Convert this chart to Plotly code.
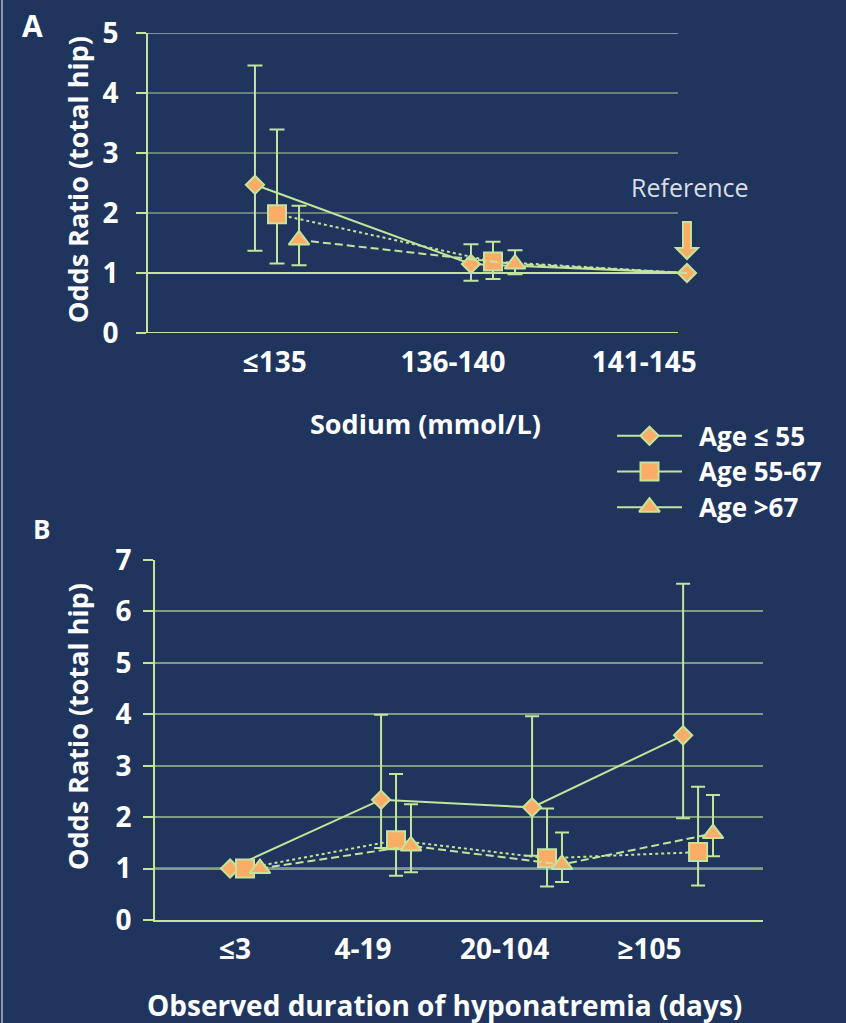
import plotly.graph_objects as go

# ---------------- data ----------------
SERIES = ["Age ≤ 55", "Age 55-67", "Age >67"]

# Panel A: odds ratio by serum sodium (141-145 is the reference group)
SODIUM_CATS = ["≤135", "136-140", "141-145"]
sodium_or_le55 = [2.47, 1.15, 1.00]
sodium_lo_le55 = [1.37, 0.87, None]
sodium_hi_le55 = [4.46, 1.48, None]
sodium_or_55_67 = [1.98, 1.19, 1.00]
sodium_lo_55_67 = [1.16, 0.90, None]
sodium_hi_55_67 = [3.39, 1.52, None]
sodium_or_gt67 = [1.55, 1.15, 1.00]
sodium_lo_gt67 = [1.13, 0.98, None]
sodium_hi_gt67 = [2.12, 1.38, None]
SODIUM_YTICKS = [0, 1, 2, 3, 4, 5]

# Panel B: odds ratio by observed duration of hyponatremia (≤3 days is the reference)
DURATION_CATS = ["≤3", "4-19", "20-104", "≥105"]
dur_or_le55 = [1.00, 2.34, 2.19, 3.59]
dur_lo_le55 = [None, 1.40, 1.25, 1.98]
dur_hi_le55 = [None, 3.99, 3.96, 6.54]
dur_or_55_67 = [1.00, 1.55, 1.20, 1.32]
dur_lo_55_67 = [None, 0.86, 0.65, 0.67]
dur_hi_55_67 = [None, 2.84, 2.17, 2.59]
dur_or_gt67 = [1.00, 1.44, 1.08, 1.68]
dur_lo_gt67 = [None, 0.93, 0.74, 1.24]
dur_hi_gt67 = [None, 2.25, 1.70, 2.43]
DURATION_YTICKS = [0, 1, 2, 3, 4, 5, 6, 7]

# ---------------- style ----------------
W, H = 846, 1023
BG = "#1F355D"
GREEN = "#C4E49B"
GRID = "#7F9C83"
GREY_LINE = "#A9B1BF"
ORANGE = "#FBAD68"
WHITE = "#FFFFFF"
FONT = "Open Sans"

SYMBOLS = ["diamond", "square", "triangle-up"]
SIZES = [14, 18, 18]
DASHES = ["solid", "dot", "8px,4px"]


def px(xp):
    return xp / W


def py(yp):
    return 1 - yp / H


def err_parts(vals, lo, hi):
    plus = [None if h is None else round(h - v, 3) for v, h in zip(vals, hi)]
    minus = [None if l is None else round(v - l, 3) for v, l in zip(vals, lo)]
    return plus, minus


def add_panel(fig, xs_list, sets, sizes_list, xa, ya, cap):
    """Error bars first (underneath), then the connecting lines with markers."""
    for s, (vals, lo, hi) in enumerate(sets):
        plus, minus = err_parts(vals, lo, hi)
        fig.add_trace(go.Scatter(
            x=xs_list[s], y=vals, mode="markers", xaxis=xa, yaxis=ya,
            showlegend=False, hoverinfo="skip", cliponaxis=False,
            marker=dict(size=1, opacity=0),
            error_y=dict(type="data", symmetric=False, array=plus, arrayminus=minus,
                         color=GREEN, thickness=2, width=cap),
        ))
    for s, (vals, lo, hi) in enumerate(sets):
        fig.add_trace(go.Scatter(
            x=xs_list[s], y=vals, mode="lines+markers", xaxis=xa, yaxis=ya,
            name=SERIES[s], showlegend=False, cliponaxis=False,
            line=dict(color=GREEN, width=2, dash=DASHES[s]),
            marker=dict(symbol=SYMBOLS[s], size=sizes_list[s], color=ORANGE,
                        opacity=1, line=dict(color=GREEN, width=2)),
        ))


fig = go.Figure()

# ---- panel A ----
# plot frame (gridlines) spans pixels 148..678; the axis range runs a little
# further right so the reference point sits just past the frame edge
A_LEFT, A_RIGHT, A_UNIT, A_CAT0 = 148, 730, 216.0, 277
A_RANGE = [(A_LEFT - A_CAT0) / A_UNIT, (A_RIGHT - A_CAT0) / A_UNIT]
A_FRAME_END = (678 - A_LEFT) / (A_RIGHT - A_LEFT)
A_OFFSETS = [-0.102, 0.0, 0.102]
A_REF = 2  # reference category: single shared point
a_sets = [
    (sodium_or_le55, sodium_lo_le55, sodium_hi_le55),
    (sodium_or_55_67, sodium_lo_55_67, sodium_hi_55_67),
    (sodium_or_gt67, sodium_lo_gt67, sodium_hi_gt67),
]
a_xs, a_sizes = [], []
for s in range(len(SERIES)):
    xs, sizes = [], []
    for i in range(len(SODIUM_CATS)):
        if i == A_REF:
            xs.append(i + A_OFFSETS[0])
            sizes.append(SIZES[s] if s == 0 else 0)
        else:
            xs.append(i + A_OFFSETS[s])
            sizes.append(SIZES[s])
    a_xs.append(xs)
    a_sizes.append(sizes)
add_panel(fig, a_xs, a_sets, a_sizes, "x", "y", 7.5)

# ---- panel B ----
B_OFFSETS = [-0.099, 0.0, 0.099]
b_sets = [
    (dur_or_le55, dur_lo_le55, dur_hi_le55),
    (dur_or_55_67, dur_lo_55_67, dur_hi_55_67),
    (dur_or_gt67, dur_lo_gt67, dur_hi_gt67),
]
b_xs = [[i + B_OFFSETS[s] for i in range(len(DURATION_CATS))] for s in range(len(SERIES))]
add_panel(fig, b_xs, b_sets, SIZES, "x2", "y2", 7)

# ---- hand-drawn legend (solid line + marker per series) ----
for s, name in enumerate(SERIES):
    fig.add_trace(go.Scatter(
        x=[0, 1], y=[s, s], mode="lines", xaxis="x3", yaxis="y3",
        showlegend=False, hoverinfo="skip", cliponaxis=False,
        line=dict(color=GREEN, width=2),
    ))
    fig.add_trace(go.Scatter(
        x=[0.5], y=[s], mode="markers", xaxis="x3", yaxis="y3",
        showlegend=False, hoverinfo="skip", cliponaxis=False,
        marker=dict(symbol=SYMBOLS[s], size=SIZES[s], color=ORANGE,
                    line=dict(color=GREEN, width=2)),
    ))

tick_font = dict(family=FONT, size=28, color=WHITE, weight=700)

# tick label centres (category units) for each panel
A_LABEL_POS = [-0.01, 0.815, 1.70]
B_LABEL_POS = [-0.066, 0.781, 1.719, 2.679]

fig.update_layout(
    width=W, height=H,
    margin=dict(l=0, r=0, t=0, b=0, autoexpand=False),
    paper_bgcolor=BG, plot_bgcolor=BG,
    showlegend=False,
    xaxis=dict(domain=[px(A_LEFT), px(A_RIGHT)], range=A_RANGE, anchor="y",
               automargin=False, showgrid=False, zeroline=False, showline=False,
               ticks="", tickvals=A_LABEL_POS, ticktext=SODIUM_CATS,
               tickfont=tick_font, ticklabelstandoff=10),
    yaxis=dict(domain=[py(333), py(33)], range=[0, 5], anchor="x",
               automargin=False, tickvals=SODIUM_YTICKS,
               showgrid=False, zeroline=False,
               showline=True, linecolor=GREEN, linewidth=2,
               ticks="outside", ticklen=10, tickcolor=GREEN, tickwidth=1.5,
               tickfont=tick_font, ticklabelstandoff=12),
    xaxis2=dict(domain=[px(155), px(763)], range=[-0.596, 3.430], anchor="y2",
                automargin=False, showgrid=False, zeroline=False, showline=True,
                linecolor=GREEN, linewidth=2, ticks="",
                tickvals=B_LABEL_POS, ticktext=DURATION_CATS,
                tickfont=tick_font, ticklabelstandoff=3),
    yaxis2=dict(domain=[py(920), py(560)], range=[0, 7], anchor="x2",
                automargin=False, tickvals=DURATION_YTICKS,
                showgrid=True, gridcolor=GRID, gridwidth=1.5, zeroline=False,
                showline=True, linecolor=GREEN, linewidth=2,
                ticks="outside", ticklen=10, tickcolor=GREEN, tickwidth=1.5,
                tickfont=tick_font, ticklabelstandoff=6),
    xaxis3=dict(domain=[px(617), px(682)], range=[0, 1], anchor="y3",
                visible=False, automargin=False),
    yaxis3=dict(domain=[py(525), py(418)], range=[2.5, -0.5], anchor="x3",
                visible=False, automargin=False),
)

shapes = []
# panel A gridlines limited to the frame width
for v in SODIUM_YTICKS:
    if v <= 1:
        color = GREEN
    elif v == SODIUM_YTICKS[-1]:
        color = GREY_LINE
    else:
        color = GRID
    shapes.append(dict(type="line", xref="x domain", yref="y", x0=0, x1=A_FRAME_END,
                       y0=v, y1=v, line=dict(color=color, width=2 if v <= 1 else 1.5),
                       layer="below"))
# bright reference line at OR = 1 in panel B
shapes.append(dict(type="line", xref="x2 domain", yref="y2", x0=0, x1=1, y0=1, y1=1,
                   line=dict(color=GREEN, width=2), layer="below"))
# left frame edge
shapes.append(dict(type="line", xref="paper", yref="paper", x0=px(2), x1=px(2), y0=0, y1=1,
                   line=dict(color="#8E97A8", width=2)))

# down arrow above the reference group point (offsets in pixels)
ax = A_REF + A_OFFSETS[0]
ay = sodium_or_le55[A_REF]
ux, uy = 1 / A_UNIT, 5 / 300.0
arrow_px = [(-4, 51), (4, 51), (4, 25), (11, 25), (0, 14), (-11, 25), (-4, 25)]
path = "M " + " L ".join(f"{ax + dx * ux:.4f} {ay + dy * uy:.4f}" for dx, dy in arrow_px) + " Z"
shapes.append(dict(type="path", xref="x", yref="y", path=path,
                   fillcolor=ORANGE, line=dict(color=GREEN, width=2)))

title_font = dict(family=FONT, size=27, color=WHITE, weight=700)
annotations = [
    dict(text="A", x=px(32), y=py(26), font=dict(family=FONT, size=30, color=WHITE, weight=700)),
    dict(text="B", x=px(41), y=py(529), font=dict(family=FONT, size=26, color=WHITE, weight=700)),
    dict(text="Odds Ratio (total hip)", x=px(77), y=py(180), textangle=-90, font=title_font),
    dict(text="Odds Ratio (total hip)", x=px(77), y=py(727), textangle=-90, font=title_font),
    dict(text="Sodium (mmol/L)", x=px(426), y=py(423), font=title_font),
    dict(text="Observed duration of hyponatremia (days)", x=px(444), y=py(1005),
         font=dict(family=FONT, size=28, color=WHITE, weight=700)),
    dict(text="Reference", x=px(690), y=py(187),
         font=dict(family=FONT, size=25, color="#D9DDE5", weight=400)),
]
for s, name in enumerate(SERIES):
    annotations.append(dict(text=name, x=px(697), y=py([436, 471, 507][s]),
                            xanchor="left",
                            font=dict(family=FONT, size=26, color=WHITE, weight=700)))
for a in annotations:
    a.setdefault("xref", "paper")
    a.setdefault("yref", "paper")
    a.setdefault("showarrow", False)
    a.setdefault("xanchor", "center")
    a.setdefault("yanchor", "middle")

fig.update_layout(shapes=shapes, annotations=annotations)

fig.write_html("out.html")
